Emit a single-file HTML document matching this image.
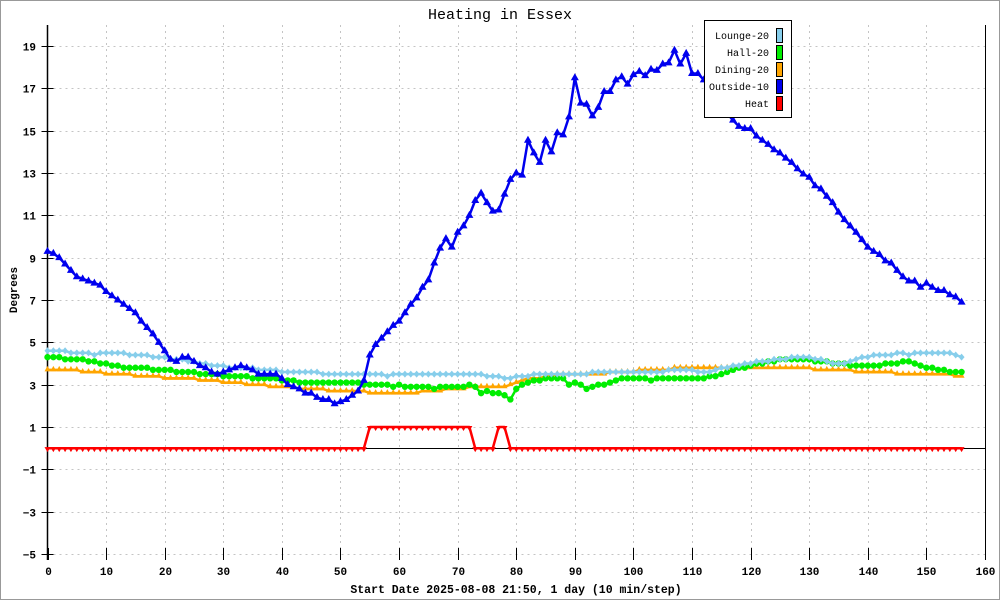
<!DOCTYPE html>
<html><head><meta charset="utf-8"><style>
html,body{margin:0;padding:0;background:#fff}
svg{display:block}
text{font-family:"Liberation Mono","DejaVu Sans Mono",monospace;font-size:11px;fill:#000}
</style></head><body>
<svg id="chart" width="1000" height="600" xmlns="http://www.w3.org/2000/svg">
<rect x="0.5" y="0.5" width="999" height="599" fill="#fff" stroke="#999"/>
<text x="500" y="19" text-anchor="middle" style="font-size:15px">Heating in Essex</text>
<text x="0" y="0" transform="translate(17,290) rotate(-90)" text-anchor="middle" font-weight="bold">Degrees</text>
<text x="516" y="593" text-anchor="middle" font-weight="bold" style="font-size:11.5px">Start Date 2025-08-08 21:50, 1 day (10 min/step)</text>
<g id="grid"></g>
<g id="axes"></g>
<g id="series"></g>
<g id="legend"></g>
</svg>
<script>
const yTicks=[-5,-3,-1,1,3,5,7,9,11,13,15,17,19];
const xTicks=[0,10,20,30,40,50,60,70,80,90,100,110,120,130,140,150,160];
const lounge=[4.6,4.6,4.6,4.6,4.5,4.5,4.5,4.5,4.4,4.5,
4.5,4.5,4.5,4.5,4.4,4.4,4.4,4.4,4.3,4.3,
4.3,4.2,4.2,4.2,4.1,4.1,4.0,4.0,3.9,3.9,
3.9,3.8,3.8,3.8,3.8,3.8,3.7,3.7,3.7,3.7,
3.6,3.6,3.6,3.6,3.6,3.6,3.6,3.5,3.5,3.5,
3.5,3.5,3.5,3.5,3.5,3.5,3.5,3.5,3.4,3.5,
3.5,3.5,3.5,3.5,3.5,3.5,3.5,3.5,3.5,3.5,
3.5,3.5,3.5,3.5,3.5,3.4,3.4,3.4,3.3,3.3,
3.4,3.4,3.4,3.5,3.5,3.5,3.5,3.5,3.5,3.5,
3.5,3.5,3.5,3.6,3.6,3.6,3.6,3.6,3.6,3.6,
3.6,3.6,3.6,3.6,3.6,3.6,3.7,3.7,3.7,3.7,
3.7,3.6,3.6,3.6,3.7,3.8,3.8,3.9,3.9,4.0,
4.0,4.1,4.1,4.1,4.2,4.2,4.2,4.3,4.3,4.3,
4.3,4.2,4.2,4.1,4.0,4.0,4.0,4.1,4.2,4.3,
4.3,4.4,4.4,4.4,4.4,4.5,4.5,4.4,4.5,4.5,
4.5,4.5,4.5,4.5,4.5,4.4,4.3];
const hall=[4.3,4.3,4.3,4.2,4.2,4.2,4.2,4.1,4.1,4.0,
4.0,3.9,3.9,3.8,3.8,3.8,3.8,3.8,3.7,3.7,
3.7,3.7,3.6,3.6,3.6,3.6,3.5,3.5,3.5,3.5,
3.4,3.4,3.4,3.4,3.4,3.3,3.3,3.3,3.3,3.3,
3.2,3.2,3.2,3.1,3.1,3.1,3.1,3.1,3.1,3.1,
3.1,3.1,3.1,3.1,3.0,3.0,3.0,3.0,3.0,2.9,
3.0,2.9,2.9,2.9,2.9,2.9,2.8,2.9,2.9,2.9,
2.9,2.9,3.0,2.9,2.6,2.7,2.6,2.6,2.5,2.3,
2.8,3.0,3.1,3.2,3.2,3.3,3.3,3.3,3.3,3.0,
3.1,3.0,2.8,2.9,3.0,3.0,3.1,3.2,3.3,3.3,
3.3,3.3,3.3,3.2,3.3,3.3,3.3,3.3,3.3,3.3,
3.3,3.3,3.3,3.4,3.4,3.5,3.6,3.7,3.8,3.8,
3.9,4.0,4.0,4.1,4.1,4.2,4.2,4.2,4.2,4.2,
4.2,4.1,4.1,4.1,4.0,4.0,4.0,3.9,3.9,3.9,
3.9,3.9,3.9,4.0,4.0,4.0,4.1,4.1,4.0,3.9,
3.8,3.8,3.7,3.7,3.6,3.6,3.6];
const dining=[3.7,3.7,3.7,3.7,3.7,3.7,3.6,3.6,3.6,3.6,
3.5,3.5,3.5,3.5,3.5,3.4,3.4,3.4,3.4,3.4,
3.3,3.3,3.3,3.3,3.3,3.3,3.2,3.2,3.2,3.2,
3.1,3.1,3.1,3.1,3.0,3.0,3.0,3.0,2.9,2.9,
2.9,2.9,2.9,2.8,2.8,2.8,2.8,2.8,2.7,2.7,
2.7,2.7,2.7,2.7,2.7,2.6,2.6,2.6,2.6,2.6,
2.6,2.6,2.6,2.6,2.7,2.7,2.7,2.7,2.8,2.8,
2.8,2.8,2.9,2.9,2.9,2.9,2.9,2.9,2.9,3.0,
3.1,3.2,3.3,3.3,3.3,3.4,3.4,3.5,3.5,3.5,
3.5,3.5,3.5,3.5,3.5,3.5,3.6,3.6,3.6,3.6,
3.6,3.7,3.7,3.7,3.7,3.7,3.7,3.8,3.8,3.8,
3.8,3.8,3.8,3.8,3.8,3.8,3.8,3.8,3.8,3.8,
3.8,3.8,3.8,3.8,3.8,3.8,3.8,3.8,3.8,3.8,
3.8,3.7,3.7,3.7,3.7,3.7,3.7,3.7,3.6,3.6,
3.6,3.6,3.6,3.6,3.6,3.5,3.5,3.5,3.5,3.5,
3.5,3.5,3.5,3.5,3.5,3.4,3.4];
const outside=[9.3,9.2,9.0,8.7,8.4,8.1,8.0,7.9,7.8,7.7,
7.4,7.2,7.0,6.8,6.6,6.4,6.0,5.7,5.4,5.0,
4.6,4.2,4.1,4.3,4.3,4.1,3.9,3.8,3.6,3.5,
3.6,3.7,3.8,3.9,3.8,3.7,3.5,3.5,3.5,3.5,
3.3,3.0,2.9,2.8,2.6,2.6,2.4,2.3,2.3,2.1,
2.2,2.3,2.5,2.7,3.2,4.4,4.9,5.2,5.5,5.8,
6.0,6.4,6.8,7.1,7.6,7.95,8.75,9.45,9.9,9.5,
10.2,10.5,11.0,11.7,12.05,11.6,11.2,11.25,12.0,12.7,
13.0,12.9,14.55,13.95,13.5,14.55,14.0,14.9,14.8,15.65,
17.5,16.3,16.25,15.7,16.1,16.85,16.85,17.4,17.55,17.2,
17.65,17.8,17.6,17.9,17.85,18.15,18.2,18.8,18.15,18.65,
17.7,17.7,17.4,17.0,16.6,16.2,15.8,15.5,15.2,15.1,
15.1,14.75,14.55,14.35,14.1,13.95,13.7,13.5,13.2,12.95,
12.8,12.4,12.25,11.9,11.6,11.15,10.8,10.5,10.2,9.85,
9.5,9.3,9.15,8.85,8.75,8.4,8.1,7.9,7.9,7.6,
7.8,7.6,7.45,7.45,7.25,7.15,6.9];
const heat=[];
const heatOnRanges=[[55,72],[77,78]];
for(let i=0;i<157;i++){heat.push(heatOnRanges.some(r=>i>=r[0]&&i<=r[1])?1:0);}
const legendNames=["Lounge-20","Hall-20","Dining-20","Outside-10","Heat"];

const NS="http://www.w3.org/2000/svg";
const X0=47.5,XS=(985-47.5)/160;
const Y0=554,YS=(554-46)/24;
const xs=v=>X0+v*XS;
const ys=v=>Y0-(v+5)*YS;
function el(tag,attrs,parent){const e=document.createElementNS(NS,tag);for(const k in attrs)e.setAttribute(k,attrs[k]);parent.appendChild(e);return e;}
const grid=document.getElementById('grid'),axes=document.getElementById('axes'),ser=document.getElementById('series'),leg=document.getElementById('legend');

yTicks.forEach(t=>{
  const y=Math.round(ys(t))+0.5;
  const g=el('line',{x1:X0,x2:985,y1:y,y2:y,stroke:'#c4c4c4','stroke-dasharray':'2,4'},grid);
  
  
  const tk=el('line',{x1:X0-6,x2:X0+6,y1:y,y2:y,stroke:'#000'},axes);
  
  
  const tx=el('text',{x:36,y:y+4,'text-anchor':'end','font-weight':'bold'},axes);
  tx.textContent=t<0?'\u2212'+(-t):String(t);
  
  
});
xTicks.forEach(t=>{
  const x=Math.round(xs(t))+0.5;
  if(t>0&&t<160){
    const g=el('line',{x1:x,x2:x,y1:25,y2:554,stroke:'#c4c4c4','stroke-dasharray':'2,4'},grid);
    
    
  }
  const tk=el('line',{x1:x,x2:x,y1:548,y2:560,stroke:'#000'},axes);
  
  
  const tx=el('text',{x:x,y:575,'text-anchor':'middle','font-weight':'bold'},axes);
  tx.textContent=String(t);
  
  
});
const la=el('line',{x1:X0,x2:X0,y1:25,y2:560,stroke:'#000','stroke-width':1.5},axes);


const ra=el('line',{x1:985.5,x2:985.5,y1:25,y2:554,stroke:'#000'},axes);


const zl=el('line',{x1:X0,x2:985,y1:Math.round(ys(0))+0.5,y2:Math.round(ys(0))+0.5,stroke:'#000'},axes);



function marker(kind,x,y,color,g){
  let m;
  if(kind==='circle')m=el('circle',{cx:x,cy:y,r:3.2,fill:color},g);
  else if(kind==='diamond')m=el('path',{d:`M${x},${y-3.5}L${x+3},${y}L${x},${y+3.5}L${x-3},${y}Z`,fill:color},g);
  else if(kind==='tri')m=el('path',{d:`M${x},${y-4.5}L${x+4},${y+2.5}L${x-4},${y+2.5}Z`,fill:color},g);
  else if(kind==='stri')m=el('path',{d:`M${x},${y-4}L${x+3},${y+1.5}L${x-3},${y+1.5}Z`,fill:color},g);
  else m=el('path',{d:`M${x-3},${y-1}L${x+3},${y-1}L${x},${y+4}Z`,fill:color},g);
  return m;
}
function drawSeries(data,color,kind,name,off){
  const g=el('g',{},ser);
  
  
  const pts=data.map((v,i)=>xs(i).toFixed(1)+','+ys(v+off).toFixed(1)).join(' ');
  const pl=el('polyline',{points:pts,fill:'none',stroke:color,'stroke-width':2.5,'stroke-linejoin':'round'},g);
  
  
  data.forEach((v,i)=>{
    const m=marker(kind,xs(i),ys(v+off),color,g);
    
    
  });
}
drawSeries(dining,'#ffa500','stri','dining',0);
drawSeries(hall,'#00ee00','circle','hall',0);
drawSeries(lounge,'#87ceeb','diamond','lounge',0);
drawSeries(outside,'#0000ee','tri','outside',0);
drawSeries(heat,'#ff0000','down','heat',0);

const lb=el('rect',{x:704.5,y:20.5,width:87,height:97,fill:'#fff',stroke:'#000'},leg);


const legColors=['#87ceeb','#00ee00','#ffa500','#0000ee','#ff0000'];
legendNames.forEach((n,i)=>{
  const y=28+i*17;
  const t=el('text',{x:769,y:y+11,'text-anchor':'end',style:'font-size:10px'},leg);
  t.textContent=n;
  
  
  const s=el('rect',{x:776.5,y:y+0.5,width:6,height:14,fill:legColors[i],stroke:'#000'},leg);
  
  
});
</script>
</body></html>
